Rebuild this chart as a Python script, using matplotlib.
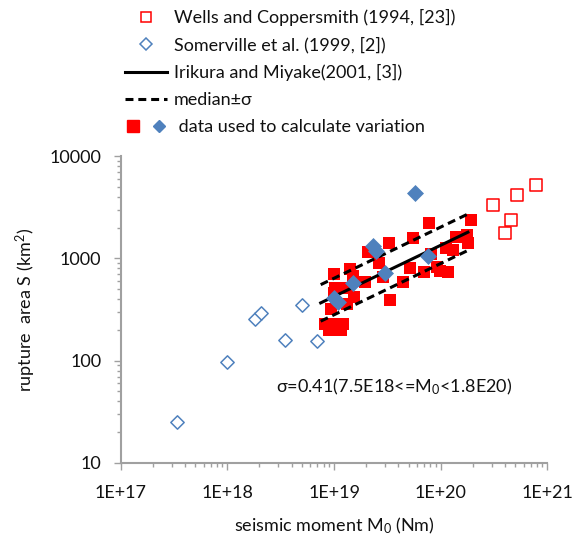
import matplotlib
matplotlib.use('Agg')
import matplotlib.pyplot as plt
from matplotlib.lines import Line2D
from matplotlib.legend_handler import HandlerTuple
from matplotlib.ticker import LogLocator, FixedLocator, NullFormatter

plt.rcParams['font.family'] = ['Lato', 'DejaVu Sans']
plt.rcParams['mathtext.fontset'] = 'custom'
plt.rcParams['mathtext.rm'] = 'Lato'
plt.rcParams['mathtext.it'] = 'Lato:italic'

# Wells and Coppersmith, not used (open squares)
wells_m0 = [7.9e20, 5.2e20, 3.1e20, 4.6e20, 4.0e20]
wells_s = [5190, 4140, 3300, 2350, 1750]

# Somerville et al., not used (open diamonds)
somer_m0 = [3.4e17, 1.0e18, 1.8e18, 2.05e18, 3.5e18, 5.0e18, 6.9e18]
somer_s = [25, 97, 258, 292, 158, 351, 155]

# data used to calculate variation
wells_used_m0 = [7.85e19, 1.93e20, 5.48e19, 3.28e19, 1.40e20, 1.76e20, 1.82e20,
                 1.13e20, 1.31e20, 8.09e19, 2.10e19, 2.66e19, 5.18e19, 6.95e19,
                 9.33e19, 9.89e19, 1.16e20, 4.42e19, 1.41e19, 1.0e19, 1.50e19,
                 1.95e19, 2.85e19, 1.02e19, 1.32e19, 1.54e19, 3.36e19, 9.31e18,
                 1.32e19, 9.9e18, 8.2e18, 9.85e18, 1.21e19, 9.03e18, 1.16e19]
wells_used_s = [2210, 2350, 1563, 1426, 1607, 1698, 1416,
                1253, 1219, 1104, 1146, 893, 798, 739,
                828, 757, 739, 590, 787, 703, 676,
                590, 650, 511, 511, 420, 390, 322,
                357, 460, 229, 229, 229, 198, 198]
somer_used_m0 = [5.76e19, 2.3e19, 2.45e19, 7.67e19, 3.0e19, 1.5e19, 1.0e19, 1.1e19]
somer_used_s = [4330, 1320, 1190, 1047, 713, 573, 410, 375]

# Irikura and Miyake (2001) and median +- sigma, end points
line_m0 = [7.5e18, 1.8e20]
irikura_s = [367, 1800]
upper_s = [553, 2710]
lower_s = [243, 1195]

red = '#FF0000'
blue = '#4F81BD'
gray = '#A0A0A0'

fig = plt.figure(figsize=(5.84, 5.40), dpi=100)
ax = fig.add_axes([0.2067, 0.1426, 0.7305, 0.5685])

ax.scatter(wells_m0, wells_s, marker='s', s=64, facecolor='white',
           edgecolor=red, linewidth=1.1, zorder=3)
ax.scatter(somer_m0, somer_s, marker='D', s=46, facecolor='white',
           edgecolor=blue, linewidth=1.1, zorder=3)
ax.scatter(wells_used_m0, wells_used_s, marker='s', s=80, color=red,
           linewidth=0, zorder=3)
ax.plot(line_m0, irikura_s, color='black', lw=2.2, zorder=4)
ax.plot(line_m0, upper_s, color='black', lw=2.2, dashes=(2.6, 1.6), zorder=4)
ax.plot(line_m0, lower_s, color='black', lw=2.2, dashes=(2.6, 1.6), zorder=4)
ax.scatter(somer_used_m0, somer_used_s, marker='D', s=75, color=blue,
           linewidth=0, zorder=5)

ax.set_xscale('log')
ax.set_yscale('log')
ax.set_xlim(1e17, 1e21)
ax.set_ylim(10, 10000)

xt = [1e17, 1e18, 1e19, 1e20, 1e21]
ax.xaxis.set_major_locator(FixedLocator(xt))
ax.set_xticklabels(['1E+17', '1E+18', '1E+19', '1E+20', '1E+21'])
yt = [10, 100, 1000, 10000]
ax.yaxis.set_major_locator(FixedLocator(yt))
ax.set_yticklabels(['10', '100', '1000', '10000'])
ax.xaxis.set_minor_locator(LogLocator(base=10, subs=range(2, 10), numticks=20))
ax.yaxis.set_minor_locator(LogLocator(base=10, subs=range(2, 10), numticks=20))
ax.xaxis.set_minor_formatter(NullFormatter())
ax.yaxis.set_minor_formatter(NullFormatter())

for side in ['top', 'right']:
    ax.spines[side].set_visible(False)
for side in ['left', 'bottom']:
    ax.spines[side].set_color(gray)
    ax.spines[side].set_linewidth(1.5)
ax.tick_params(which='major', direction='out', length=5, width=1, color=gray,
               labelsize=13, labelcolor='#111111')
ax.tick_params(which='minor', direction='out', length=3, width=1, color=gray)
ax.tick_params(axis='y', which='major', pad=9)
ax.tick_params(axis='x', which='major', pad=11)

ax.set_xlabel('seismic moment M$_\\mathregular{0}$ (Nm)', fontsize=13,
              color='#111111', labelpad=10)
ax.set_ylabel('rupture  area S (km$^\\mathregular{2}$)', fontsize=13,
              color='#111111', labelpad=8)

ax.text(0.363, 0.248, 'σ=0.41(7.5E18<=M$_\\mathregular{0}$<1.8E20)',
        transform=ax.transAxes, fontsize=13, color='#111111', va='center')

h_wells = Line2D([], [], ls='none', marker='s', ms=7, mfc='white', mec=red, mew=1.1)
h_somer = Line2D([], [], ls='none', marker='D', ms=6, mfc='white', mec=blue, mew=1.1)
h_iri = Line2D([], [], color='black', lw=2.2)
h_med = Line2D([], [], color='black', lw=2.2, dashes=(2.6, 1.6))
h_sq = Line2D([], [], ls='none', marker='s', ms=8, color=red)
h_di = Line2D([], [], ls='none', marker='D', ms=6, color=blue)

fig.legend([h_wells, h_somer, h_iri, h_med, (h_sq, h_di)],
           ['Wells and Coppersmith (1994, [23])',
            'Somerville et al. (1999, [2])',
            'Irikura and Miyake(2001, [3])',
            'median±σ',
            ' data used to calculate variation'],
           handler_map={tuple: HandlerTuple(ndivide=None, pad=0.6)},
           loc='upper left', bbox_to_anchor=(125 / 584, 1 - 9 / 540),
           frameon=False, fontsize=13, handlelength=2.3, handletextpad=0.4,
           labelspacing=0.6, borderpad=0, borderaxespad=0,
           labelcolor='#111111')

fig.savefig('out.png', dpi=100)
